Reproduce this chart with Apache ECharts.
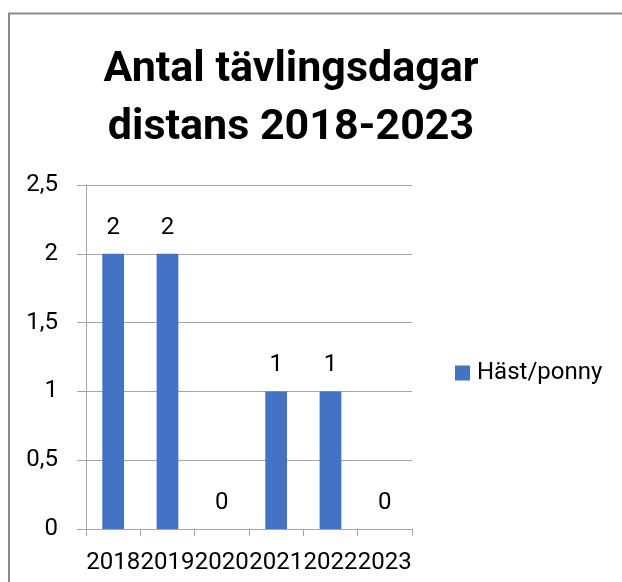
<!DOCTYPE html>
<html>
<head>
<meta charset="utf-8">
<script src="https://cdn.jsdelivr.net/npm/echarts@6/dist/echarts.min.js"></script>
<style>
html,body{margin:0;padding:0;background:#fff;}
#chart{width:622px;height:582px;}
</style>
</head>
<body>
<div id="chart"></div>
<script>
const categories = ['2018', '2019', '2020', '2021', '2022', '2023'];
const seriesName = 'Häst/ponny';
const values = [2, 2, 0, 1, 1, 0];
const yTicks = { min: 0, max: 2.5, interval: 0.5 };
const titleText = 'Antal tävlingsdagar\ndistans 2018-2023';

const FONT = 'Roboto';
const chart = echarts.init(document.getElementById('chart'), null, { renderer: 'canvas' });
chart.setOption({
  animation: false,
  backgroundColor: '#ffffff',
  textStyle: { fontFamily: FONT },
  title: {
    text: titleText,
    left: 291,
    top: 41,
    padding: 0,
    textAlign: 'center',
    textStyle: { fontFamily: FONT, fontWeight: 'bold', fontSize: 43, lineHeight: 58, color: '#000000' }
  },
  graphic: [{
    type: 'rect',
    shape: { x: 9, y: 13.5, width: 800, height: 800 },
    style: { fill: 'none', stroke: '#8c8c8c', lineWidth: 2 },
    silent: true
  }],
  legend: {
    data: [seriesName],
    left: 455,
    top: 361,
    icon: 'rect',
    itemWidth: 15,
    itemHeight: 15,
    padding: 0,
    textStyle: { fontFamily: FONT, fontSize: 24, color: '#000000', padding: [0, 0, 0, 2] }
  },
  grid: { left: 86, right: 210, top: 185, bottom: 53, containLabel: false },
  xAxis: {
    type: 'category',
    data: categories,
    boundaryGap: true,
    axisLine: { lineStyle: { color: '#a6a6a6', width: 1 } },
    axisTick: { show: true, length: 7, lineStyle: { color: '#a6a6a6' } },
    axisLabel: { fontFamily: FONT, fontSize: 24, color: '#000000', margin: 22, interval: 0 }
  },
  yAxis: {
    type: 'value',
    min: yTicks.min,
    max: yTicks.max,
    interval: yTicks.interval,
    axisLine: { show: true, lineStyle: { color: '#a6a6a6', width: 1 } },
    axisTick: { show: true, length: 9, lineStyle: { color: '#a6a6a6' } },
    splitLine: { show: true, lineStyle: { color: '#a6a6a6', width: 1 } },
    axisLabel: {
      fontFamily: FONT, fontSize: 24, color: '#000000', margin: 28,
      formatter: v => String(v).replace('.', ',')
    }
  },
  series: [{
    name: seriesName,
    type: 'bar',
    data: values,
    barWidth: '40%',
    itemStyle: { color: '#4472C4' },
    label: { show: true, position: 'top', distance: 14, fontFamily: FONT, fontSize: 24, color: '#000000' }
  }]
});
</script>
</body>
</html>
